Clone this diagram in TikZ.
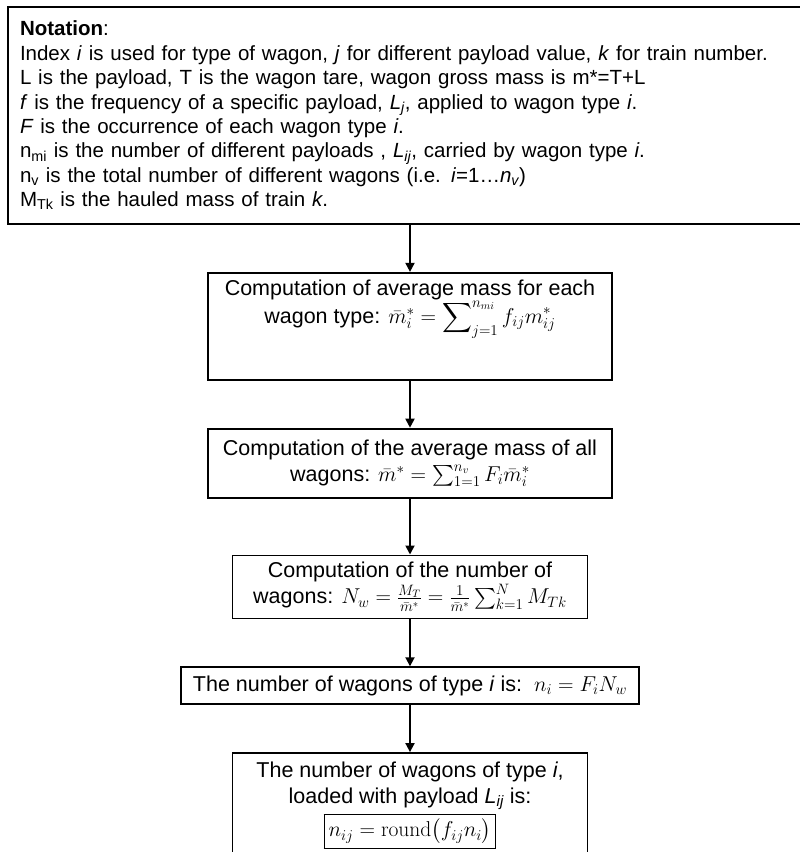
\documentclass[tikz,border=0pt]{standalone}
\usepackage{fix-cm}
\usepackage{amsmath}
\usepackage[no-math]{fontspec}
\setmainfont{Liberation Sans}
\usetikzlibrary{positioning,arrows.meta}

\begin{document}
\begin{tikzpicture}[x=1pt,y=-1pt,node distance=47pt,
    box/.style={draw,line width=1.8pt,align=center,inner sep=2pt,font=\fontsize{21.5}{26}\selectfont},
    flow/.style={line width=1.8pt,-{Triangle[length=9pt,width=9pt]}}]
   \useasboundingbox (0,0) rectangle (800,852);
   \node[draw,line width=1.8pt,text width=780pt,align=left,inner xsep=12pt,inner ysep=4pt,
         minimum height=217pt,font=\fontsize{20.5}{24.4}\selectfont] (notation) at (410,115.5)
      {\textbf{Notation}:\\
       Index \textit{i} is used for type of wagon, \textit{j} for different payload value, \textit{k} for train number.\\
       L is the payload, T is the wagon tare, wagon gross mass is m*=T+L\\
       \textit{f} is the frequency of a specific payload, \textit{L\textsubscript{j}}, applied to wagon type \textit{i}.\\
       \textit{F} is the occurrence of each wagon type \textit{i}.\\
       n\textsubscript{mi} is the number of different payloads , \textit{L\textsubscript{ij}}, carried by wagon type \textit{i}.\\
       n\textsubscript{v} is the total number of different wagons (i.e. \textit{i}=1\dots\textit{n\textsubscript{v}})\\
       M\textsubscript{Tk} is the hauled mass of train \textit{k}.};
   \node[box,minimum width=404pt,minimum height=107pt] (avgtype) [below=of notation]
      {\rule{0pt}{18pt}Computation of average mass for each\\
       wagon type: $\bar{m}_i^* = \displaystyle\sum\nolimits_{j=1}^{n_{mi}} f_{ij}m_{ij}^*$\rule[-52pt]{0pt}{0pt}};
   \node[box,minimum width=404pt,minimum height=69pt] (avgall) [below=of avgtype]
      {Computation of the average mass of all\\
       wagons: $\bar{m}^* = \sum_{1=1}^{n_v} F_i\bar{m}_i^*$};
   \node[box,minimum width=355pt,minimum height=63pt] (count) [below=56pt of avgall]
      {Computation of the number of\\
       wagons: $N_w = \frac{M_T}{\bar{m}^*} = \frac{1}{\bar{m}^*}\sum_{k=1}^{N} M_{Tk}$};
   \node[box,minimum width=458pt,minimum height=37pt] (pertype) [below=of count]
      {The number of wagons of type \textit{i} is:\ \ $n_i = F_iN_w$};
   \node[box,minimum width=355pt,inner ysep=4pt] (perload) [below=of pertype]
      {\rule{0pt}{20pt}The number of wagons of type \textit{i},\\
       loaded with payload \textit{L\textsubscript{ij}} is:\\[3pt]
       \setlength{\fboxrule}{1pt}\setlength{\fboxsep}{4pt}\fbox{$n_{ij} = \mathrm{round}\big(f_{ij}n_i\big)$}\rule[-24pt]{0pt}{0pt}};
   \draw[flow] (notation) -- (avgtype);
   \draw[flow] (avgtype) -- (avgall);
   \draw[flow] (avgall) -- (count);
   \draw[flow] (count) -- (pertype);
   \draw[flow] (pertype) -- (perload);
\end{tikzpicture}
\end{document}
